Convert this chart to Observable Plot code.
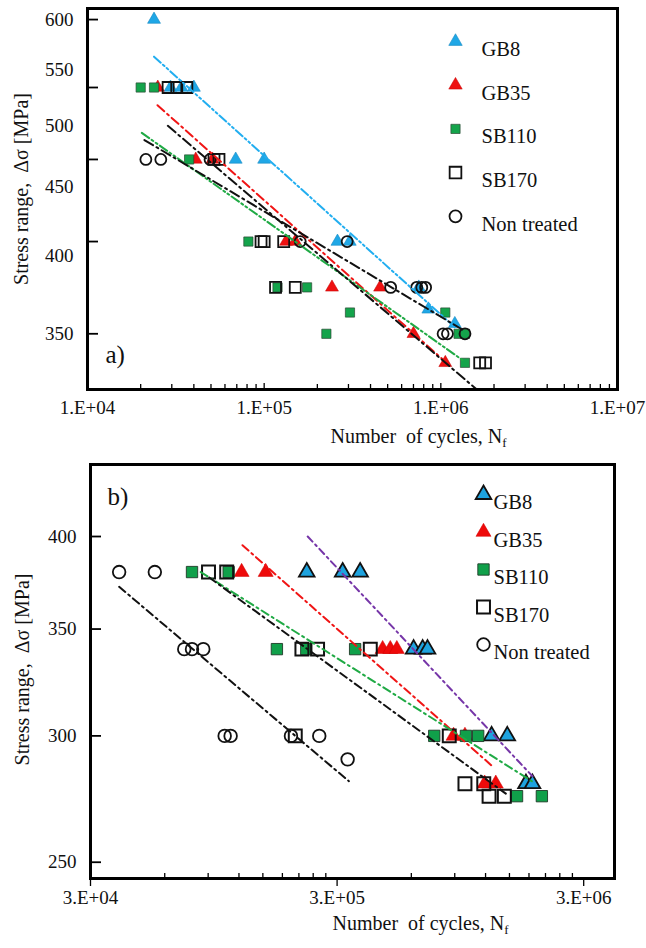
<!DOCTYPE html>
<html><head><meta charset="utf-8">
<script src="https://cdn.jsdelivr.net/npm/d3@7"></script>
<script src="https://cdn.jsdelivr.net/npm/@observablehq/plot@0.6"></script>
<style>
body{margin:0;background:#fff;font-family:"Liberation Serif",serif;}
#wrap{position:relative;width:646px;height:948px;background:#fff;}
#a{position:absolute;left:0;top:0;}
#b{position:absolute;left:0;top:456px;}
svg text, svg tspan{font-family:"Liberation Serif",serif !important;}
</style></head><body><div id="wrap"><div id="a"></div><div id="b"></div></div>
<script>
const FONT = "'Liberation Serif', serif";

// ---------- Panel a) data: number of cycles n, stress range s [MPa] ----------
const aGB8 = [{n:2.38e4,s:600},{n:2.95e4,s:534},{n:3.4e4,s:534},{n:4.0e4,s:534},{n:6.9e4,s:472},{n:1.0e5,s:472},
  {n:2.6e5,s:410},{n:3.05e5,s:410},{n:7.5e5,s:379},{n:8.5e5,s:365},{n:1.2e6,s:356}];
const aGB35 = [{n:2.5e4,s:534},{n:4.1e4,s:472},{n:5.1e4,s:472},{n:1.33e5,s:410},{n:1.5e5,s:410},
  {n:2.42e5,s:379},{n:4.53e5,s:379},{n:7.0e5,s:350},{n:1.06e6,s:333}];
const aSB110 = [{n:2.0e4,s:534},{n:2.38e4,s:534},{n:3.76e4,s:472},{n:8.14e4,s:410},{n:1.19e5,s:379},{n:1.75e5,s:379},
  {n:2.25e5,s:350},{n:3.06e5,s:363},{n:1.06e6,s:363},{n:1.26e6,s:350},{n:1.37e6,s:350},{n:1.37e6,s:333}];
const aSB170 = [{n:2.86e4,s:534},{n:3.2e4,s:534},{n:3.65e4,s:534},{n:5.2e4,s:472},{n:5.55e4,s:472},
  {n:9.6e4,s:410},{n:1.0e5,s:410},{n:1.29e5,s:410},{n:1.16e5,s:379},{n:1.5e5,s:379},{n:1.66e6,s:333},{n:1.79e6,s:333}];
const aNT = [{n:2.14e4,s:472},{n:2.6e4,s:472},{n:4.94e4,s:472},{n:1.6e5,s:410},{n:2.95e5,s:410},
  {n:5.2e5,s:379},{n:7.3e5,s:379},{n:7.8e5,s:379},{n:8.2e5,s:379},{n:1.03e6,s:350},{n:1.09e6,s:350},{n:1.37e6,s:350}];
// fitted S-N lines, panel a
const aFitGB8 = [{n:2.38e4,s:563},{n:1.2e6,s:354}];
const aFitGB35 = [{n:2.49e4,s:518},{n:1.05e6,s:334}];
const aFitSB110 = [{n:2.03e4,s:494},{n:1.35e6,s:334}];
const aFitSB170 = [{n:2.85e4,s:500},{n:1.58e6,s:318.5}];
const aFitNT = [{n:2.1e4,s:488},{n:1.35e6,s:352}];

// ---------- Panel b) data ----------
const bGB8 = [{n:2.26e5,s:380},{n:3.16e5,s:380},{n:3.72e5,s:380},{n:6.13e5,s:340},{n:6.67e5,s:340},{n:6.98e5,s:340},
  {n:1.27e6,s:300},{n:1.47e6,s:300},{n:1.75e6,s:280},{n:1.86e6,s:280}];
const bGB35 = [{n:1.23e5,s:380},{n:1.54e5,s:380},{n:4.59e5,s:340},{n:4.93e5,s:340},{n:5.24e5,s:340},
  {n:8.9e5,s:300},{n:9.9e5,s:300},{n:1.19e6,s:280},{n:1.32e6,s:280}];
const bSB110 = [{n:7.74e4,s:380},{n:1.09e5,s:380},{n:1.71e5,s:340},{n:2.25e5,s:340},{n:3.55e5,s:340},
  {n:7.43e5,s:300},{n:9.99e5,s:300},{n:1.12e6,s:300},{n:1.61e6,s:275},{n:2.03e6,s:275}];
const bSB170 = [{n:9.03e4,s:380},{n:1.07e5,s:380},{n:2.16e5,s:340},{n:2.5e5,s:340},{n:4.09e5,s:340},
  {n:2.03e5,s:300},{n:8.55e5,s:300},{n:9.9e5,s:280},{n:1.18e6,s:280},{n:1.24e6,s:275},{n:1.43e6,s:275}];
const bNT = [{n:3.92e4,s:380},{n:5.47e4,s:380},{n:7.2e4,s:340},{n:7.74e4,s:340},{n:8.6e4,s:340},
  {n:1.05e5,s:300},{n:1.11e5,s:300},{n:1.95e5,s:300},{n:2.54e5,s:300},{n:3.31e5,s:290}];
const bFitGB8 = [{n:2.28e5,s:400},{n:1.86e6,s:283}];
const bFitGB35 = [{n:1.24e5,s:395},{n:1.3e6,s:286.5}];
const bFitSB110 = [{n:8.4e4,s:380},{n:1.85e6,s:281}];
const bFitSB170 = [{n:9.1e4,s:377},{n:1.45e6,s:276}];
const bFitNT = [{n:3.92e4,s:372},{n:3.35e5,s:281}];

// ---------- axes ----------
const aXMajor = [1e4,1e5,1e6,1e7];
const aXLabels = ["1.E+04","1.E+05","1.E+06","1.E+07"];
const aXMinor = [2,3,4,5,6,7,8,9].flatMap(k => [k*1e4,k*1e5,k*1e6]);
const aYTickMarks = [600,534,472,410,350];
const aYLabels = [600,550,500,450,400,350];
const bXMajor = [3e4,3e5,3e6];
const bXLabels = ["3.E+04","3.E+05","3.E+06"];
const bXMinor = [2,3,4,5,6,7,8,9].flatMap(k => [k*3e4,k*3e5]);
const bYTicks = [400,350,300,250];
const legendLabels = ["GB8","GB35","SB110","SB170","Non treated"];

const yTitle = "Stress range,\u00a0 \u0394\u03c3 [MPa]";
const xTitle = "Number\u00a0 of cycles, N";

function panel(cfg){
  const W = 646;
  const plotW = W - cfg.ml - cfg.mr;
  const plotH = cfg.h - cfg.mt - cfg.mb;
  const T = {fontFamily: FONT, fill: "#111"};
  const marks = [];
  cfg.series.forEach(sr => {
    marks.push(Plot.dot(sr.data, {x:"n", y:"s", symbol: sr.symbol, r: sr.r, fill: sr.fill, stroke: sr.stroke, strokeWidth: sr.sw}));
  });
  cfg.fits.forEach(f => {
    marks.push(Plot.line(f.data, {x:"n", y:"s", stroke: f.color, strokeWidth: 2, strokeDasharray: f.dash, clip: true}));
  });
  marks.push(Plot.tickX(cfg.xMinor.filter(v => v > cfg.xd[0] && v < cfg.xd[1]), {x: d => d, stroke:"black", strokeWidth:1.3, insetTop: plotH - 5}));
  if (cfg.majorOut) {
    marks.push(Plot.tickX(cfg.xMajor, {x: d => d, stroke:"black", strokeWidth:1.3, insetTop: plotH, insetBottom: -8}));
  } else {
    marks.push(Plot.tickX(cfg.xMajor.filter(v => v > cfg.xd[0] && v < cfg.xd[1]), {x: d => d, stroke:"black", strokeWidth:1.3, insetTop: plotH - 6}));
  }
  marks.push(Plot.tickY(cfg.yTickMarks, {y: d => d, stroke:"black", strokeWidth:1.8, insetRight: plotW - 11}));
  marks.push(Plot.text(cfg.xMajor, {x: d => d, frameAnchor:"bottom", dy: cfg.xLabDy, text: (d,i) => cfg.xLabels[i], fontSize: 19, ...T}));
  marks.push(Plot.text(cfg.yLabels, {y: d => d, frameAnchor:"left", dx: -cfg.yLabGap, textAnchor:"end", text: d => String(d), fontSize: 19, ...T}));
  marks.push(Plot.text([yTitle], {frameAnchor:"left", textAnchor:"middle", dx: cfg.yTitleDx, dy: cfg.yTitleDy, rotate: -90, fontSize: 20, ...T}));
  marks.push(Plot.text([xTitle], {frameAnchor:"bottom", textAnchor:"middle", dx: cfg.xTitleDx, dy: cfg.xTitleDy, fontSize: 20, ...T}));
  marks.push(Plot.text([cfg.tag], {frameAnchor: cfg.tagAnchor, dx: cfg.tagDx, dy: cfg.tagDy, textAnchor:"start", fontSize: 25, ...T}));
  cfg.series.forEach((sr, i) => {
    marks.push(Plot.dot([legendLabels[i]], {frameAnchor:"top-left", dx: cfg.legX, dy: cfg.legY + i*cfg.legStep, symbol: sr.symbol, r: sr.lr || sr.r, fill: sr.fill, stroke: sr.stroke, strokeWidth: sr.sw}));
    marks.push(Plot.text([legendLabels[i]], {frameAnchor:"top-left", dx: cfg.legTX, dy: cfg.legY + i*cfg.legStep, textAnchor:"start", fontSize: 20.5, ...T}));
  });
  marks.push(Plot.frame({stroke:"black", strokeWidth: 3}));
  const svg = Plot.plot({
    width: W, height: cfg.h,
    marginTop: cfg.mt, marginBottom: cfg.mb, marginLeft: cfg.ml, marginRight: cfg.mr,
    x: {type:"log", domain: cfg.xd, axis: null},
    y: {type:"log", domain: cfg.yd, axis: null},
    style: {background:"white", overflow:"visible"},
    marks
  });
  const s = d3.select(svg);
  s.attr("font-family", "Liberation Serif").style("font-family", "'Liberation Serif', serif");
  s.selectAll("g").filter(function(){ return this.hasAttribute("font-family"); }).attr("font-family", "Liberation Serif");
  s.selectAll("text").attr("font-family", "Liberation Serif").style("font-family", "'Liberation Serif', serif");
  s.selectAll("text").filter(function(){ return this.textContent === xTitle; })
    .append("tspan").attr("dy", "0.35em").attr("font-size", 13).text("f");
  return svg;
}

const svgA = panel({
  h: 456, mt: 8, mb: 67, ml: 87, mr: 29,
  xd: [1e4, 1e7], yd: [318.1, 611.5],
  xMajor: aXMajor, xLabels: aXLabels, xMinor: aXMinor, majorOut: false,
  yTickMarks: aYTickMarks, yLabels: aYLabels,
  xLabDy: 24, yLabGap: 14, yTitleDx: -66, yTitleDy: -10, xTitleDx: 66, xTitleDy: 53,
  tag: "a)", tagAnchor: "bottom-left", tagDx: 18, tagDy: -27,
  legX: 368, legTX: 394, legY: 33, legStep: 43.7,
  series: [
    {data: aGB8, symbol:"triangle", r: 4.8, lr: 5, fill:"#1fa7e6", stroke:"#1789c2", sw: 0.6},
    {data: aGB35, symbol:"triangle", r: 4.8, lr: 5, fill:"#ee1111", stroke:"#c40000", sw: 0.5},
    {data: aSB110, symbol:"square", r: 5.2, fill:"#14a44b", stroke:"#2d4a35", sw: 0.7},
    {data: aSB170, symbol:"square", r: 6.2, lr: 6.6, fill:"none", stroke:"#111", sw: 1.8},
    {data: aNT, symbol:"circle", r: 5.5, lr: 6, fill:"none", stroke:"#111", sw: 1.8}
  ],
  fits: [
    {data: aFitGB8, color:"#22aef0", dash:"9,3,2,3,2,3"},
    {data: aFitGB35, color:"#f01515", dash:"9,4,2,4"},
    {data: aFitSB110, color:"#20aa45", dash:"9,3,2,3,2,3"},
    {data: aFitSB170, color:"#111", dash:"10,4,2,4"},
    {data: aFitNT, color:"#111", dash:"10,4,2,4"}
  ]
});
document.getElementById("a").appendChild(svgA);

const svgB = panel({
  h: 492, mt: 8, mb: 70, ml: 90, mr: 32,
  xd: [3e4, 4.0e6], yd: [244.2, 443.8],
  xMajor: bXMajor, xLabels: bXLabels, xMinor: bXMinor, majorOut: true,
  yTickMarks: bYTicks, yLabels: bYTicks,
  xLabDy: 25, yLabGap: 14, yTitleDx: -68, yTitleDy: -2, xTitleDx: 68, xTitleDy: 51,
  tag: "b)", tagAnchor: "top-left", tagDx: 17, tagDy: 23,
  legX: 393, legTX: 403, legY: 30, legStep: 37.5,
  series: [
    {data: bGB8, symbol:"triangle", r: 5.8, fill:"#1ea3df", stroke:"#111", sw: 1.8},
    {data: bGB35, symbol:"triangle", r: 5.6, fill:"#ee0a0a", stroke:"#d00000", sw: 0.5},
    {data: bSB110, symbol:"square", r: 6.4, fill:"#10a04a", stroke:"#1f3a28", sw: 0.9},
    {data: bSB170, symbol:"square", r: 7.3, fill:"none", stroke:"#111", sw: 2},
    {data: bNT, symbol:"circle", r: 6.3, fill:"none", stroke:"#111", sw: 1.8}
  ],
  fits: [
    {data: bFitGB8, color:"#7636a8", dash:"7,4,2,4"},
    {data: bFitGB35, color:"#f01515", dash:"8,4,2,4"},
    {data: bFitSB110, color:"#20aa45", dash:"8,4,2,4"},
    {data: bFitSB170, color:"#111", dash:"8,4,2,4"},
    {data: bFitNT, color:"#111", dash:"8,4,2,4"}
  ]
});
document.getElementById("b").appendChild(svgB);
</script></body></html>
